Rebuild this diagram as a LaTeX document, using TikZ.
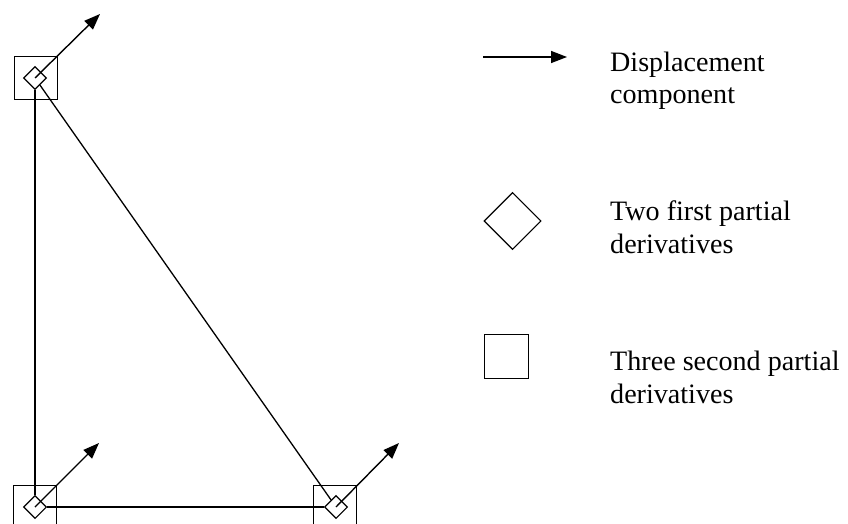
\documentclass[tikz,border=0pt]{standalone}
\usepackage{fontspec}
\setmainfont{Liberation Serif}
\usetikzlibrary{shapes.geometric,arrows.meta}
\tikzset{
  dofmark/.style={draw, diamond, inner sep=0pt, minimum size=23pt, line width=1.1pt},
  sqmark/.style={draw, rectangle, inner sep=0pt, minimum size=43pt, line width=1pt},
  disp/.style={line width=1.4pt, -{Triangle[length=16pt,width=12pt]}},
  lbl/.style={anchor=base west, align=left, inner sep=0pt, font=\fontsize{28.1}{32.5}\selectfont}
}
\begin{document}
\begin{tikzpicture}[x=1pt,y=-1pt]
    \clip (0,0) rectangle (848,524);

    % nodi del triangolo
    \node[sqmark] (sqA) at (35.5,78) {};
    \node[sqmark] (sqB) at (35,507) {};
    \node[sqmark] (sqC) at (335,507) {};
    \node[dofmark] (nA) at (35,78) {};
    \node[dofmark] (nB) at (35,507) {};
    \node[dofmark] (nC) at (336,507) {};

    % lati
    \draw[line width=1.3pt] (nA) -- (nB);
    \draw[line width=1.3pt] (nA) -- (nC);
    \draw[line width=1.3pt] (nB) -- (nC);

    % spostamenti
    \coordinate (tipA) at (100,14);
    \coordinate (tipB) at (99,443);
    \coordinate (tipC) at (399,443);
    \draw[disp] (nA.center) -- (tipA);
    \draw[disp] (nB.center) -- (tipB);
    \draw[disp] (nC.center) -- (tipC);

    % legenda
    \coordinate (legS) at (483,57);
    \coordinate (legE) at (567,57);
    \draw[disp] (legS) -- (legE);
    \node[dofmark, minimum size=57pt] (legD) at (512.5,221) {};
    \node[sqmark, minimum size=44pt] (legQ) at (506,356) {};

    \node[lbl] (txtA) at (610,104) {Displacement\\component};
    \node[lbl] (txtB) at (610,253) {Two first partial\\derivatives};
    \node[lbl] (txtC) at (610,403) {Three second partial\\derivatives};
\end{tikzpicture}
\end{document}
